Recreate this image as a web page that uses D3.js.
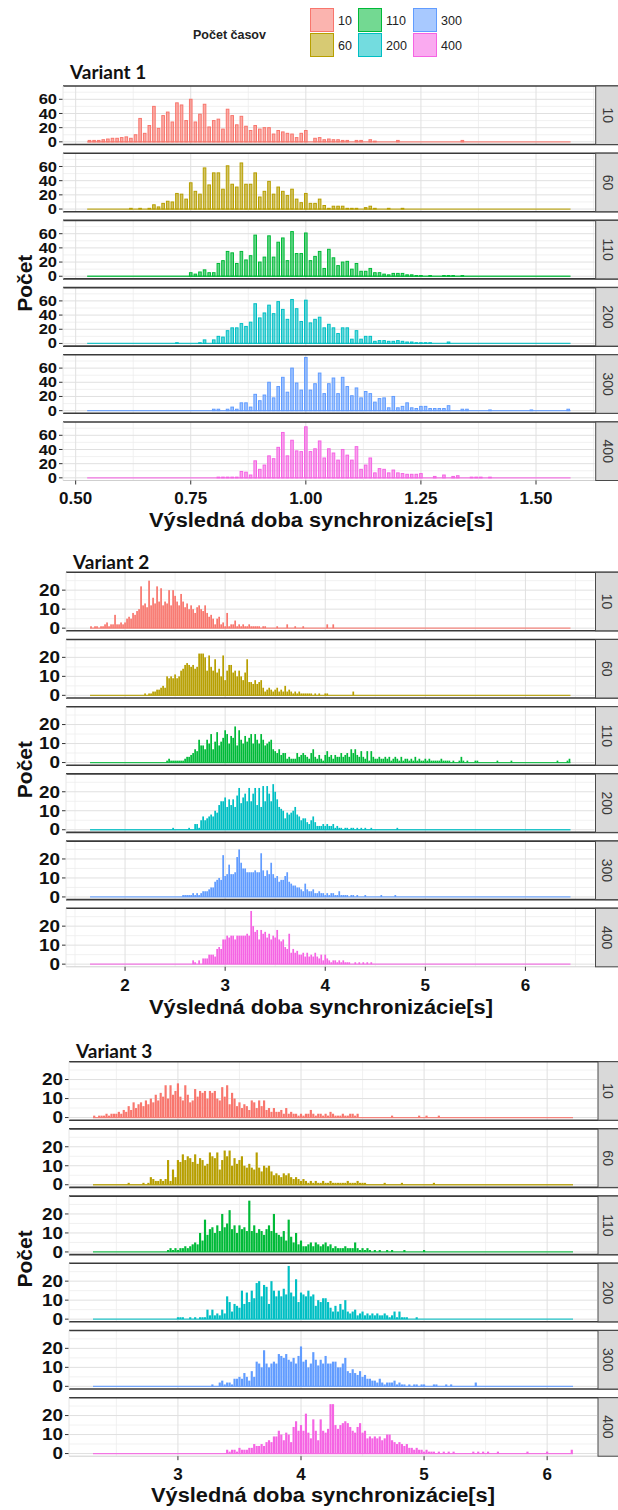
<!DOCTYPE html>
<html>
<head>
<meta charset="utf-8">
<script src="https://cdn.jsdelivr.net/npm/d3@7/dist/d3.min.js"></script>
<style>
  body { margin: 0; background: #ffffff; }
  svg text { font-family: "Liberation Sans", Arial, sans-serif; }
  .title { font-family: Lato, "Open Sans", sans-serif !important; font-weight: 700; font-size: 19px; }
</style>
</head>
<body>
<svg id="chart" width="618" height="1510"></svg>
<script>
// facet groups (Počet časov) and ggplot hue colours
const groups = ["10", "60", "110", "200", "300", "400"];
const groupColors = ["#F8766D", "#B79F00", "#00BA38", "#00BFC4", "#619CFF", "#F564E3"];

// ---- Variant 1: bin width 0.01, bin centres 0.53 .. 1.57
const v1Range = [0.53, 1.57];
const v1Starts = [0.53, 0.62, 0.75, 0.72, 0.80, 0.81];
const v1_10 = [2,2,2,3,4,5,5,6,7,5,10,
  33,12,23,50,19,37,
  42,28,55,52,30,60,28,39,53,21,
  30,32,18,46,37,24,36,22,16,23,
  18,20,20,11,16,14,12,11,6,12,
  16,0,5,6,3,4,3,3,2,2,
  0,2,2,0,3,1,0,0,0,0,
  2,0,0,0,0,0,0,0,0,0,0,0,0,0,2];
const v1_60 = [1,0,1,0,1,6,3,8,
  11,10,22,21,14,37,25,21,58,34,
  51,51,28,61,35,31,65,35,35,51,
  17,25,39,21,31,25,19,28,14,9,
  22,8,8,14,5,1,4,4,4,1,
  1,1,0,2,4,1,0,0,1,0,
  0,1];
const v1_110 = [5,3,6,9,5,
  5,18,22,35,33,18,35,23,29,58,
  20,27,57,27,48,54,22,63,32,32,
  61,22,28,35,11,38,26,15,20,21,
  10,18,7,7,11,5,5,3,2,4,
  4,4,2,2,1,1,0,1,0,0,
  1,1,1,0,1];
const v1_200 = [1,0,0,0,0,1,5,0,
  5,10,9,18,22,22,28,24,30,56,
  36,43,54,42,59,48,34,62,49,31,
  61,29,34,37,22,27,22,14,22,22,
  6,18,6,10,10,3,4,4,3,3,
  4,3,2,2,1,1,1,1,0,0,
  0,2];
const v1_300 = [2,2,0,2,5,2,11,11,5,23,
  14,22,40,18,34,47,26,60,39,29,
  75,29,38,53,24,38,46,24,47,34,
  21,32,18,27,24,12,17,18,4,20,
  4,6,11,4,3,6,6,3,3,3,
  3,7,0,0,2,2,0,0,0,0,
  1,0,0,0,0,0,0,0,0,1,0,0,0,0,0,0,0,2];
const v1_400 = [1,1,1,1,1,9,8,4,24,
  12,18,31,27,43,64,31,53,38,37,
  72,37,41,52,28,41,35,25,40,32,
  25,44,12,18,28,7,13,12,7,11,
  7,6,5,5,5,6,0,0,2,0,
  4,0,2,3,0,0,1,1,1,0,1];
const v1XTicks = [0.5, 0.75, 1.0, 1.25, 1.5];
const v1YTicks = [0, 20, 40, 60];

// ---- Variant 2: bin width 0.02, bin centres 1.66 .. 6.44
const v2Range = [1.66, 6.44];
const v2Starts = [1.66, 2.20, 2.42, 2.48, 2.58, 2.68];
const v2_10 = [1,0,
  1,1,0,1,1, 2,3,1,2,2, 7,2,2,3,2,
  3,5,6,5,8, 7,9,10,22,12, 13,11,25,12,16, 13,22,14,21,12, 14,13,20,12,20,
  17,14,12,18,14, 11,13,10,12,10, 8,11,12,10,9, 12,8,6,7,5, 2,5,6,2,3,
  1,8,1,2,2, 4,1,2,1,2, 1,1,2,1,1, 1,1,1,0,1, 1,0,0,0,0,
  0,1,0,0,0, 0,2,0,0,0, 1,0,0,0,1, 0,0,0,0,0, 0,0,0,0,0,
  0,2,0,0,2];
const v2_60 = [1,0,1,1,2, 2,3,3,4,5, 4,10,9,10,9, 11,9,10,13,14, 16,17,16,15,16,
  14,15,22,22,22, 20,13,21,15,13, 19,12,14,10,21, 8,13,16,16,12, 13,10,13,10,8,
  12,19,7,7,6, 8,6,7,8,4, 2,3,4,3,2, 3,4,2,3,2, 5,2,3,2,1,
  2,1,2,1,1, 1,1,1,1,0, 1,0,1,0,0, 1,1,0,0,0, 0,0,0,0,0,
  0,0,0,0,2];
const v2_110 = [1,2,1,1,
  1,1,1,1,1, 2,3,3,4,5, 7,6,12,9,9, 7,12,10,15,7, 11,16,9,11,13,
  17,15,10,14,13, 19,9,17,12,10, 14,11,13,15,10, 15,12,10,15,12, 9,10,11,12,7,
  6,5,7,4,5, 5,2,3,2,2, 2,5,3,4,5, 4,3,2,5,7, 3,2,4,2,1,
  4,6,3,4,2, 4,3,3,5,3, 4,5,3,7,5, 7,4,3,6,3, 2,6,1,6,3,
  2,2,3,2,2, 3,2,3,1,2, 3,2,1,3,1, 2,2,1,2,1, 3,1,2,1,1,
  2,1,2,1,1, 1,1,1,2,1, 1,1,1,0,1, 0,0,1,3,1, 0,1,0,0,0,
  1,1,0,0,0, 0,0,0,0,0, 0,1,0,0,0, 0,0,0,1,0,
  0,0,0,0,0, 0,0,0,0,0, 0,0,0,0,0, 0,0,0,0,0,
  0,1,0,0,0, 0,1,2];
const v2_200 = [1,
  0,0,0,0,0, 0,0,1,0,0, 3,3,1,5,7, 5,6,7,8,7, 10,9,13,15,15,
  17,12,16,13,16, 12,18,22,14,17, 19,15,22,15,19, 22,13,22,12,23, 15,23,19,15,24,
  20,16,12,11,10, 6,9,8,9,10, 12,8,7,5,6, 6,4,3,5,7, 4,2,2,2,3,
  2,3,2,2,3, 1,2,1,1,0, 1,1,0,1,1, 0,1,0,1,0, 1,0,0,1,0,
  0,0,0,0,0, 0,0,0,0,0, 0,1];
const v2_300 = [1,
  1,1,1,1,2, 1,2,1,2,3, 3,3,4,5,5, 8,9,10,9,22,
  11,12,17,12,12, 13,21,25,18,15, 15,13,13,13,13, 14,13,13,23,14, 11,14,12,18,12,
  10,11,8,9,9, 11,13,8,7,6, 6,5,5,4,3, 7,4,3,3,4, 2,2,3,2,2,
  1,2,1,2,2, 1,1,3,1,1, 1,1,0,1,1, 0,1,0,0,0, 1,0,0,0,0,
  0,0,0,1,0, 0,0,0,0,0, 1];
const v2_400 = [2,
  1,0,2,0,3, 3,3,5,5,5, 4,8,9,8,13,
  13,15,14,15,15, 13,15,15,15,15, 15,16,15,28,20, 17,18,13,18,16, 17,14,16,13,15,
  14,18,13,12,13, 9,8,16,6,8, 6,7,5,5,6, 4,6,4,5,4, 6,4,3,5,2,
  5,3,2,1,2, 2,1,2,1,2, 1,1,1,0,0, 1,0,1,0,1, 0,1,0,1,0];
const v2XTicks = [2, 3, 4, 5, 6];
const v2YTicks = [0, 10, 20];

// ---- Variant 3: bin width 0.02, bin centres 2.32 .. 6.20
const v3Range = [2.32, 6.20];
const v3Starts = [2.32, 2.60, 2.92, 3.00, 3.28, 3.40];
const v3_10 = [1,0,1,1,
  1,2,1,2,2, 2,3,2,4,3, 6,4,8,5,7, 8,6,9,7,10, 8,12,9,13,11, 17,10,17,12,14,
  18,11,9,17,12, 8,9,15,11,14, 13,14,10,14,13, 14,10,9,16,11, 17,7,13,10,6,
  8,5,7,6,4, 9,8,5,9,6, 9,4,5,3,5, 3,3,4,2,5, 2,3,2,2,1,
  2,1,2,2,4, 2,1,2,2,1, 2,1,3,2,1, 1,1,2,1,1, 2,2,1,2,0,
  0,0,0,0,0, 0,0,0,0,0, 0,0,1,0,0, 0,0,0,0,0, 0,0,0,1,0,
  0,1,0,0,0, 0,1];
const v3_60 = [1,0,0,0,0, 0,1,0,1,4, 3,2,2,3,2, 3,13,2,8,4,
  13,12,16,13,15, 14,12,16,11,14, 13,10,11,17,15, 14,17,8,13,18, 15,18,10,14,11,
  13,15,10,9,11, 9,8,17,9,7, 10,9,10,7,5, 6,5,4,6,5, 6,4,3,4,3,
  2,3,2,1,2, 1,2,1,1,2, 1,1,2,1,1, 1,1,1,1,2, 1,1,1,2,1,
  1,1,0,0,0, 0,0,0,0,1, 0,0,0,0,0, 0,1,0,0,0, 0,0,0,0,0,
  0,0,0,0,1];
const v3_110 = [1,2,1,2,
  1,2,2,3,2, 3,4,5,4,10, 6,17,9,12,13, 10,14,11,20,13, 15,22,12,14,10,
  14,12,13,11,27, 11,14,10,12,11, 9,12,14,11,20, 10,9,8,11,6, 17,8,5,10,4,
  6,3,3,4,5, 3,5,4,3,4, 5,3,4,2,3, 2,2,2,3,2, 2,2,5,2,1,
  2,1,2,1,0, 1,0,1,0,0, 1,0,1,0,0, 0,0,1,0,0, 0,0,0,0,0,
  1];
const v3_200 = [1,1,1,0,0, 1,0,1,0,1, 1,1,5,2,5, 2,3,2,5,3, 12,9,4,8,7,
  6,15,8,14,9, 15,11,19,20,12, 18,17,8,20,15, 12,15,12,16,13, 28,14,12,21,9,
  14,13,12,15,12, 13,7,10,9,11, 11,9,6,4,7, 4,8,5,10,4, 3,4,5,2,3,
  4,2,3,2,3, 2,3,2,2,3, 2,1,2,4,1, 4,1,1,1,0, 0,0,1,0,0];
const v3_300 = [1,
  0,0,2,3,1, 2,2,1,4,4, 5,4,7,5,3, 8,5,13,12,10, 19,12,10,12,13,
  12,17,16,15,17, 14,13,15,12,16, 21,13,14,10,12, 18,14,11,14,12, 16,12,12,13,13,
  10,10,12,15,8, 7,9,7,6,8, 5,6,4,4,3, 3,2,4,2,1, 2,2,2,3,1,
  2,1,1,0,1, 0,1,1,0,1, 1,0,0,0,1, 1,0,0,0,1, 0,1,0,0,0,
  0,0,0,0,0, 0,2];
const v3_400 = [2,1,2,2,1, 3,2,2,2,3, 3,5,4,4,5, 4,6,7,6,9, 9,12,10,7,11,
  10,6,14,17,12, 15,12,21,11,8, 18,12,7,18,12, 11,13,26,26,15, 13,15,16,17,16,
  14,12,11,14,16, 11,12,8,9,8, 9,8,9,7,8, 10,10,7,6,5, 6,5,4,5,3,
  3,2,3,2,2, 1,2,1,1,1, 0,1,0,1,0, 1,0,1,0,0, 0,0,0,0,0,
  1,0,1,0,1, 0,1,0,0,0, 1,0,0,0,0, 0,0,0,0,0, 0,0,1,0,0,
  0,0,0,0,0, 1,0,0,0,0, 0,0,0,0,0, 2];
const v3XTicks = [3, 4, 5, 6];
const v3YTicks = [0, 10, 20];

const xTitle = "Výsledná doba synchronizácie[s]";
const yTitle = "Počet";
const legendTitle = "Počet časov";

// layout per variant (positions only)
const variants = [
  { title: "Variant 1", bin: 0.01, range: v1Range, starts: v1Starts,
    series: [v1_10, v1_60, v1_110, v1_200, v1_300, v1_400],
    xTicks: v1XTicks, yTicks: v1YTicks, fmt: d3.format(".2f"), wide: true,
    left: 63, right: 594.7, top: 86, titleY: 79, tickY: 504, axisY: 527, axisX: 321 },
  { title: "Variant 2", bin: 0.02, range: v2Range, starts: v2Starts,
    series: [v2_10, v2_60, v2_110, v2_200, v2_300, v2_400],
    xTicks: v2XTicks, yTicks: v2YTicks, fmt: d3.format("d"), wide: false,
    left: 66, right: 594.5, top: 572.3, titleY: 569, tickY: 991, axisY: 1014, axisX: 321 },
  { title: "Variant 3", bin: 0.02, range: v3Range, starts: v3Starts,
    series: [v3_10, v3_60, v3_110, v3_200, v3_300, v3_400],
    xTicks: v3XTicks, yTicks: v3YTicks, fmt: d3.format("d"), wide: false,
    left: 69, right: 597, top: 1061.7, titleY: 1058, tickY: 1480, axisY: 1502, axisX: 323 }
];

const pitch = 67.2;
const panelH = 58.5;
const stripW = 24;
const W = 618;
const svg = d3.select("#chart");

function minorBreaks(majors, domain) {
  const step = majors[1] - majors[0];
  return d3.range(majors[0] - step * 1.5, domain[1] + step, step / 2)
    .filter(v => v > domain[0] && v < domain[1])
    .filter(v => !majors.some(m => Math.abs(m - v) < 1e-9));
}

variants.forEach(cfg => {
  const lo = cfg.range[0] - cfg.bin / 2;
  const hi = cfg.range[1] + cfg.bin / 2;
  const ext = (hi - lo) * 0.05;
  const x = d3.scaleLinear().domain([lo - ext, hi + ext]).range([cfg.left, cfg.right]);
  const maxN = d3.max(cfg.series, s => d3.max(s));
  const yDom = [-0.05 * maxN, 1.05 * maxN];
  const xMinor = minorBreaks(cfg.xTicks, x.domain());
  const yMinor = minorBreaks(cfg.yTicks, yDom);

  svg.append("text").attr("class", "title")
    .attr("x", cfg.left + 7).attr("y", cfg.titleY)
    .attr("fill", "#111")
    .text(cfg.title);

  groups.forEach((grp, i) => {
    const top = cfg.top + i * pitch;
    const y = d3.scaleLinear().domain(yDom).range([top + panelH, top]);
    const color = groupColors[i];
    const g = svg.append("g");
    const last = i === groups.length - 1;

    g.append("rect").attr("x", cfg.left).attr("y", top)
      .attr("width", cfg.right - cfg.left).attr("height", panelH).attr("fill", "#fff");

    // grid
    g.selectAll(".gxm").data(xMinor).enter().append("line")
      .attr("x1", d => x(d)).attr("x2", d => x(d)).attr("y1", top).attr("y2", top + panelH)
      .attr("stroke", "#eeeeee").attr("stroke-width", 0.8);
    g.selectAll(".gym").data(yMinor).enter().append("line")
      .attr("x1", cfg.left).attr("x2", cfg.right).attr("y1", d => y(d)).attr("y2", d => y(d))
      .attr("stroke", "#eeeeee").attr("stroke-width", 0.8);
    g.selectAll(".gx").data(cfg.xTicks).enter().append("line")
      .attr("x1", d => x(d)).attr("x2", d => x(d)).attr("y1", top).attr("y2", top + panelH)
      .attr("stroke", "#e0e0e0").attr("stroke-width", 1);
    g.selectAll(".gy").data(cfg.yTicks).enter().append("line")
      .attr("x1", cfg.left).attr("x2", cfg.right).attr("y1", d => y(d)).attr("y2", d => y(d))
      .attr("stroke", "#e0e0e0").attr("stroke-width", 1);

    // histogram bars
    const start = cfg.starts[i];
    const bins = cfg.series[i].map((n, k) => ({ c: +(start + k * cfg.bin).toFixed(3), n: n }))
      .filter(d => d.n > 0);

    g.append("line")
      .attr("x1", x(lo)).attr("x2", x(hi)).attr("y1", y(0)).attr("y2", y(0))
      .attr("stroke", color).attr("stroke-width", 1.3).attr("opacity", 0.85);

    const bars = g.selectAll(".bar").data(bins).enter().append("rect")
      .attr("y", d => y(d.n))
      .attr("height", d => y(0) - y(d.n))
      .attr("fill", color);
    if (cfg.wide) {
      bars.attr("x", d => x(d.c - cfg.bin / 2) + 1)
        .attr("width", d => x(d.c + cfg.bin / 2) - x(d.c - cfg.bin / 2) - 2)
        .attr("fill-opacity", 0.6)
        .attr("stroke", color).attr("stroke-width", 1);
    } else {
      bars.attr("x", d => x(d.c - cfg.bin / 2) + 0.15)
        .attr("width", d => x(d.c + cfg.bin / 2) - x(d.c - cfg.bin / 2) - 0.3);
    }

    // y axis ticks + labels
    g.selectAll(".yt").data(cfg.yTicks).enter().append("line")
      .attr("x1", cfg.left - 4).attr("x2", cfg.left).attr("y1", d => y(d)).attr("y2", d => y(d))
      .attr("stroke", "#333").attr("stroke-width", 1);
    g.selectAll(".yl").data(cfg.yTicks).enter().append("text")
      .attr("x", cfg.left - 6).attr("y", d => y(d))
      .attr("dy", "0.36em").attr("text-anchor", "end")
      .attr("font-size", cfg.wide ? 14 : 16).attr("font-weight", 700).attr("fill", "#111")
      .attr("transform", d => `translate(${cfg.left - 6},${y(d)}) scale(1.18,1) translate(${-(cfg.left - 6)},${-y(d)})`)
      .text(d => d);

    // panel borders
    g.append("line").attr("x1", cfg.left).attr("x2", W).attr("y1", top).attr("y2", top)
      .attr("stroke", "#3a3a3a").attr("stroke-width", 1.6);
    g.append("line").attr("x1", cfg.left).attr("x2", W).attr("y1", top + panelH).attr("y2", top + panelH)
      .attr("stroke", last ? "#cfcfcf" : "#3a3a3a").attr("stroke-width", last ? 1 : 1.6);
    g.append("line").attr("x1", cfg.left).attr("x2", cfg.left).attr("y1", top).attr("y2", top + panelH)
      .attr("stroke", "#e6e6e6").attr("stroke-width", 1);

    // strip
    g.append("rect").attr("x", cfg.right + 1).attr("y", top)
      .attr("width", stripW).attr("height", panelH)
      .attr("fill", "#d9d9d9").attr("stroke", "#4a4a4a").attr("stroke-width", 1);
    g.append("text")
      .attr("transform", `translate(${Math.min(cfg.right + 13, 608)},${top + panelH / 2}) rotate(90)`)
      .attr("text-anchor", "middle").attr("dy", "0.36em")
      .attr("font-size", 14).attr("fill", "#3a3a3a")
      .text(grp);

    if (last) {
      g.selectAll(".xt").data(cfg.xTicks).enter().append("line")
        .attr("x1", d => x(d)).attr("x2", d => x(d))
        .attr("y1", top + panelH).attr("y2", top + panelH + 4)
        .attr("stroke", "#333").attr("stroke-width", 1);
    }
  });

  // x tick labels
  svg.append("g").selectAll("text").data(cfg.xTicks).enter().append("text")
    .attr("x", d => x(d)).attr("y", cfg.tickY)
    .attr("text-anchor", "middle")
    .attr("font-size", 17).attr("font-weight", 700).attr("fill", "#111")
    .text(d => cfg.fmt(d));

  // axis titles
  svg.append("text")
    .attr("x", cfg.axisX).attr("y", cfg.axisY)
    .attr("text-anchor", "middle")
    .attr("font-size", 20).attr("font-weight", 700).attr("fill", "#111")
    .attr("textLength", 344).attr("lengthAdjust", "spacingAndGlyphs")
    .text(xTitle);

  const midY = cfg.top + (5 * pitch + panelH) / 2;
  svg.append("text")
    .attr("transform", `translate(24,${midY}) rotate(-90)`)
    .attr("text-anchor", "middle").attr("dy", "0.36em")
    .attr("font-size", 21).attr("font-weight", 700).attr("fill", "#111")
    .text(yTitle);
});

// legend
const legend = svg.append("g");
legend.append("text")
  .attr("x", 193).attr("y", 39)
  .attr("font-size", 12.5).attr("font-weight", 700).attr("fill", "#222")
  .text(legendTitle);

const keyX = [310, 358, 413];
const keyY = [8, 33];
groups.forEach((grp, i) => {
  const col = Math.floor(i / 2), row = i % 2;
  legend.append("rect")
    .attr("x", keyX[col] + 0.5).attr("y", keyY[row] + 0.5)
    .attr("width", 23).attr("height", 23)
    .attr("fill", groupColors[i]).attr("fill-opacity", 0.55)
    .attr("stroke", groupColors[i]).attr("stroke-width", 1);
  legend.append("text")
    .attr("x", keyX[col] + 28).attr("y", keyY[row] + 17)
    .attr("font-size", 12.5).attr("fill", "#222")
    .text(grp);
});
</script>
</body>
</html>
